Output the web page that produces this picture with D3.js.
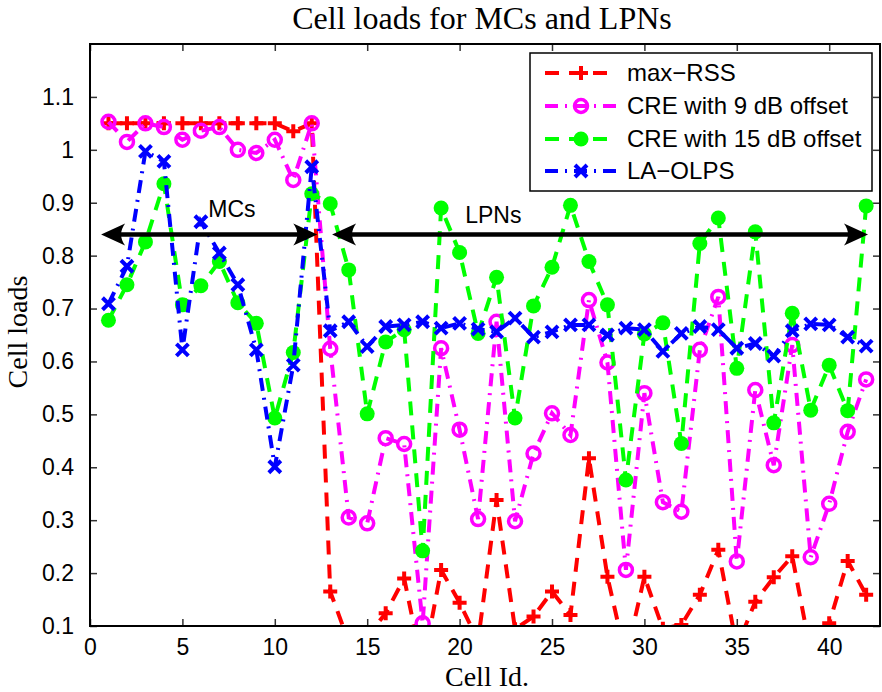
<!DOCTYPE html>
<html><head><meta charset="utf-8">
<script src="https://cdn.jsdelivr.net/npm/d3@7/dist/d3.min.js"></script>
<style>html,body{margin:0;padding:0;background:#fff;}svg{display:block;}</style>
</head><body>
<script>
const cellIds = d3.range(1, 43);
const maxRSS = [1.05,1.05,1.05,1.05,1.05,1.05,1.05,1.05,1.05,1.05,1.035,1.05,0.165,0.07,0.08,0.124,0.19,0.02,0.206,0.144,0.072,0.338,0.094,0.118,0.165,0.121,0.417,0.193,0.04,0.193,0.095,0.102,0.159,0.244,0.06,0.146,0.192,0.232,0.05,0.105,0.223,0.159];
const cre9 = [1.053,1.015,1.05,1.043,1.019,1.036,1.043,1.0,0.994,1.019,0.943,1.05,0.624,0.305,0.294,0.455,0.444,0.105,0.625,0.471,0.302,0.675,0.298,0.426,0.502,0.461,0.716,0.598,0.206,0.54,0.334,0.316,0.622,0.722,0.222,0.546,0.404,0.631,0.23,0.331,0.467,0.566];
const cre15 = [0.678,0.745,0.826,0.936,0.707,0.743,0.789,0.711,0.672,0.493,0.617,0.917,0.898,0.773,0.501,0.637,0.66,0.242,0.89,0.806,0.653,0.759,0.493,0.705,0.778,0.895,0.789,0.707,0.376,0.652,0.673,0.445,0.823,0.871,0.587,0.845,0.484,0.691,0.508,0.593,0.507,0.894];
const laOLPS = [0.709,0.78,0.997,0.978,0.622,0.864,0.805,0.745,0.622,0.401,0.593,0.968,0.658,0.675,0.628,0.666,0.669,0.675,0.663,0.672,0.661,0.656,0.682,0.646,0.656,0.669,0.669,0.65,0.663,0.66,0.619,0.653,0.666,0.66,0.625,0.634,0.61,0.658,0.671,0.669,0.646,0.629];
const seriesNames = ["max\u2212RSS","CRE with 9 dB offset","CRE with 15 dB offset","LA\u2212OLPS"];
const xTicks = [0,5,10,15,20,25,30,35,40];
const yTicks = [0.1,0.2,0.3,0.4,0.5,0.6,0.7,0.8,0.9,1.0,1.1];
const yTickLabels = ["0.1","0.2","0.3","0.4","0.5","0.6","0.7","0.8","0.9","1","1.1"];
const arrowSpans = [[0.6,12.3],[13.1,42.1]];
const arrowLevel = 0.84;
const regionLabels = [{t:"MCs",x:6.4,y:0.873},{t:"LPNs",x:20.3,y:0.862}];

const W=882,H=692;
const L=90,R=880,T=44,B=626;
const x = d3.scaleLinear().domain([0,(R-L)/18.48]).range([L,R]);
const y = d3.scaleLinear().domain([0.1,1.2]).range([B,T]);

const svg = d3.select("body").append("svg").attr("width",W).attr("height",H);
svg.append("defs").append("clipPath").attr("id","clip").append("rect")
  .attr("x",L).attr("y",T).attr("width",R-L).attr("height",B-T);

const sans = "'Liberation Sans', Arial, Helvetica, sans-serif";
const serif = "'Liberation Serif', 'Times New Roman', serif";

svg.append("text").attr("x",482).attr("y",29).attr("text-anchor","middle")
  .attr("font-family",serif).attr("font-size",32).text("Cell loads for MCs and LPNs");
svg.append("text").attr("x",487).attr("y",686).attr("text-anchor","middle")
  .attr("font-family",serif).attr("font-size",28).text("Cell Id.");
svg.append("text").attr("transform","translate(27,332) rotate(-90)").attr("text-anchor","middle")
  .attr("font-family",serif).attr("font-size",28).text("Cell loads");

const tickLen = 7;
const axB = svg.append("g").attr("transform",`translate(0,${B})`)
  .call(d3.axisBottom(x).tickValues(xTicks).tickSize(-tickLen).tickPadding(13).tickFormat(d3.format("d")));
const axT = svg.append("g").attr("transform",`translate(0,${T})`)
  .call(d3.axisTop(x).tickValues(xTicks).tickSize(-tickLen).tickFormat(""));
const axL = svg.append("g").attr("transform",`translate(${L},0)`)
  .call(d3.axisLeft(y).tickValues(yTicks).tickSize(-tickLen).tickPadding(16).tickFormat((d,i)=>yTickLabels[i]));
const axR = svg.append("g").attr("transform",`translate(${R},0)`)
  .call(d3.axisRight(y).tickValues(yTicks).tickSize(-tickLen).tickFormat(""));
[axB,axT,axL,axR].forEach(a=>{
  a.select(".domain").remove();
  a.selectAll(".tick line").attr("stroke","#333").attr("stroke-width",1.5);
  a.selectAll("text").attr("font-family",sans).attr("font-size",23).attr("fill","#000");
});
axB.selectAll("text").attr("dy","0.71em");

const plot = svg.append("g").attr("clip-path","url(#clip)");
const lineGen = d3.line().x((d,i)=>x(cellIds[i])).y(d=>y(d));

const styles = [
  {data:maxRSS, color:"#ff0000", dash:"14,10", marker:"plus"},
  {data:cre9, color:"#ff00ff", dash:"13,7,2,7", marker:"circle"},
  {data:cre15, color:"#00ff00", dash:"14,10", marker:"dot"},
  {data:laOLPS, color:"#0000ff", dash:"13,7,2,7", marker:"cross"}
];

function drawMarker(g, type, cx, cy, color){
  if(type==="plus"){
    g.append("path").attr("d",`M${cx-7},${cy}H${cx+7}M${cx},${cy-7}V${cy+7}`)
      .attr("stroke",color).attr("stroke-width",4).attr("fill","none");
  } else if(type==="circle"){
    g.append("circle").attr("cx",cx).attr("cy",cy).attr("r",6.5)
      .attr("stroke",color).attr("stroke-width",3.5).attr("fill","none");
  } else if(type==="dot"){
    g.append("circle").attr("cx",cx).attr("cy",cy).attr("r",7.5).attr("fill",color);
  } else {
    g.append("path").attr("d",`M${cx-6},${cy-6}L${cx+6},${cy+6}M${cx-6},${cy+6}L${cx+6},${cy-6}`)
      .attr("stroke",color).attr("stroke-width",4).attr("fill","none");
  }
}

styles.forEach(s=>{
  const g = plot.append("g");
  g.append("path").datum(s.data).attr("d",lineGen).attr("fill","none")
    .attr("stroke",s.color).attr("stroke-width",4).attr("stroke-dasharray",s.dash);
  s.data.forEach((v,i)=>drawMarker(g,s.marker,x(cellIds[i]),y(v),s.color));
});

svg.append("rect").attr("x",L).attr("y",T).attr("width",R-L).attr("height",B-T)
  .attr("fill","none").attr("stroke","#000").attr("stroke-width",2);

function arrowHead(px,py,dir){
  const len=24, hw=11, notch=16;
  return `M${px},${py}L${px-dir*len},${py-hw}Q${px-dir*notch},${py} ${px-dir*len},${py+hw}Z`;
}
const ann = svg.append("g");
arrowSpans.forEach(sp=>{
  const x0=x(sp[0]), x1=x(sp[1]), yy=y(arrowLevel);
  ann.append("line").attr("x1",x0+10).attr("x2",x1-10).attr("y1",yy).attr("y2",yy)
    .attr("stroke","#000").attr("stroke-width",4.5);
  ann.append("path").attr("d",arrowHead(x1,yy,1)).attr("fill","#000");
  ann.append("path").attr("d",arrowHead(x0,yy,-1)).attr("fill","#000");
});
regionLabels.forEach(r=>{
  ann.append("text").attr("x",x(r.x)).attr("y",y(r.y)).attr("font-family",sans)
    .attr("font-size",23).text(r.t);
});

const lg = svg.append("g");
lg.append("rect").attr("x",530).attr("y",53).attr("width",342).attr("height",138)
  .attr("fill","#fff").attr("stroke","#000").attr("stroke-width",1.5);
const rowY=[73,106,139,171];
styles.forEach((s,i)=>{
  const yy=rowY[i];
  lg.append("line").attr("x1",545).attr("x2",617).attr("y1",yy).attr("y2",yy)
    .attr("stroke",s.color).attr("stroke-width",4).attr("stroke-dasharray",s.dash);
  drawMarker(lg,s.marker,581,yy,s.color);
  lg.append("text").attr("x",627).attr("y",yy+8).attr("font-family",sans)
    .attr("font-size",24).text(seriesNames[i]);
});
</script>
</body></html>
